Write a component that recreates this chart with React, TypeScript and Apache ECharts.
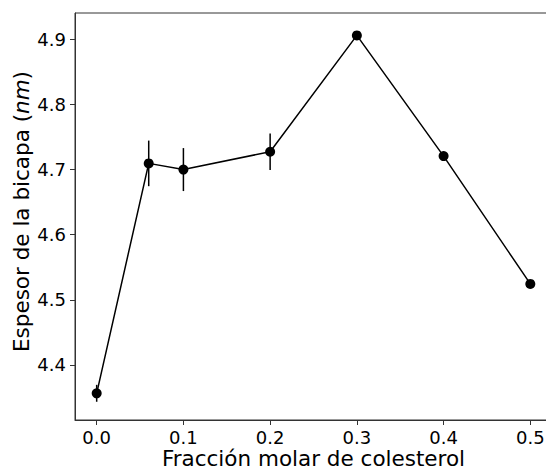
import React, { useEffect, useRef } from "react";
import * as echarts from "echarts";

const xValues = [0.0, 0.06, 0.1, 0.2, 0.3, 0.4, 0.5];
const yValues = [4.3565, 4.7095, 4.7, 4.7274, 4.906, 4.7207, 4.5244];
const yErrors = [0.013, 0.035, 0.033, 0.028, 0.003, 0.004, 0.003];
const xTicks = [0.0, 0.1, 0.2, 0.3, 0.4, 0.5];
const yTicks = [4.4, 4.5, 4.6, 4.7, 4.8, 4.9];

const FONT = "DejaVu Sans";

export default function App() {
  const ref = useRef<HTMLDivElement>(null);
  useEffect(() => {
    if (!ref.current) return;
    const chart = echarts.init(ref.current, null, { renderer: "svg" });
    const points = xValues.map((x, i) => [x, yValues[i]]);
    const errData = xValues.map((x, i) => [x, yValues[i] - yErrors[i], yValues[i] + yErrors[i]]);
    chart.setOption({
      animation: false,
      backgroundColor: "#ffffff",
      grid: {
        left: 75,
        top: 13,
        width: 477,
        height: 407,
        show: true,
        borderColor: "#333333",
        borderWidth: 1,
        containLabel: false,
        outerBoundsMode: "none",
      },
      xAxis: {
        type: "value",
        min: -0.025,
        max: 0.525,
        name: "Fracción molar de colesterol",
        nameLocation: "middle",
        nameGap: 27,
        nameMoveOverlap: false,
        nameTextStyle: { fontFamily: FONT, fontSize: 21.5, color: "#000" },
        splitLine: { show: false },
        axisLine: { show: true, onZero: false, lineStyle: { color: "#333", width: 1 } },
        axisTick: { show: true, length: 5, inside: false, customValues: xTicks, lineStyle: { color: "#333" } },
        axisLabel: {
          customValues: xTicks,
          fontFamily: FONT,
          fontSize: 18,
          color: "#000",
          margin: 8,
          formatter: (v: number) => v.toFixed(1),
        },
      },
      yAxis: {
        type: "value",
        min: 4.3155,
        max: 4.9404,
        name: "Espesor de la bicapa ({i|nm})",
        nameLocation: "middle",
        nameGap: 43,
        nameMoveOverlap: false,
        nameTextStyle: {
          fontFamily: FONT,
          fontSize: 21.5,
          color: "#000",
          padding: [0, 0, 0, 10],
          rich: { i: { fontFamily: FONT, fontSize: 21.5, fontStyle: "italic", color: "#000" } },
        },
        splitLine: { show: false },
        axisLine: { show: true, onZero: false, lineStyle: { color: "#333", width: 1 } },
        axisTick: { show: true, length: 5, inside: false, customValues: yTicks, lineStyle: { color: "#333" } },
        axisLabel: {
          customValues: yTicks,
          fontFamily: FONT,
          fontSize: 18,
          color: "#000",
          margin: 9,
          formatter: (v: number) => v.toFixed(1),
        },
      },
      series: [
        {
          type: "custom",
          data: errData,
          z: 3,
          renderItem: (params: any, api: any) => {
            const x = api.value(0);
            const p1 = api.coord([x, api.value(1)]);
            const p2 = api.coord([x, api.value(2)]);
            return {
              type: "line",
              shape: { x1: p1[0], y1: p1[1], x2: p2[0], y2: p2[1] },
              style: { stroke: "#000", lineWidth: 1.5 },
            };
          },
        },
        {
          type: "line",
          data: points,
          z: 4,
          symbol: "circle",
          symbolSize: 10,
          lineStyle: { color: "#000", width: 1.5 },
          itemStyle: { color: "#000" },
        },
      ],
    });
    return () => chart.dispose();
  }, []);
  return (
    <div style={{ position: "fixed", left: 0, top: 0, width: 546, height: 469, overflow: "hidden", background: "#fff" }}>
      <div ref={ref} style={{ width: 570, height: 469 }} />
    </div>
  );
}
